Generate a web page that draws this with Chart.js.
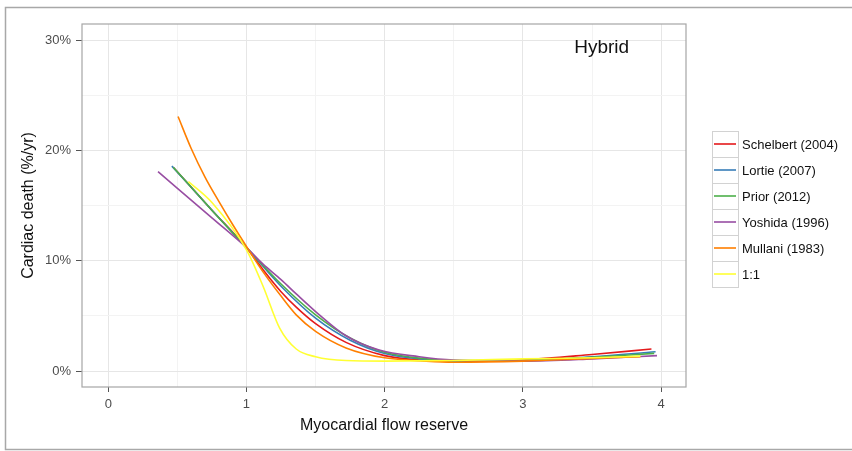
<!DOCTYPE html>
<html>
<head>
<meta charset="utf-8">
<script src="https://cdn.jsdelivr.net/npm/chart.js@4.4.1/dist/chart.umd.min.js"></script>
<style>
  body { margin: 0; background: #fff; }
  #wrap { position: relative; width: 852px; height: 451px; }
</style>
</head>
<body>
<div id="wrap"><canvas id="chart"></canvas></div>
<script>
// values (x = flow reserve, y = % per year)
const seriesNames = ["Schelbert (2004)", "Lortie (2007)", "Prior (2012)", "Yoshida (1996)", "Mullani (1983)", "1:1"];
const seriesColors = ["#e41a1c", "#377eb8", "#4daf4a", "#984ea3", "#ff7f00", "#ffff33"];

const schelbertX = [0.47, 0.75, 1.0, 1.12, 1.25, 1.36, 1.5, 1.72, 2.0, 2.3, 2.5, 3.0, 3.5, 3.93];
const schelbertY = [18.5, 14.6, 11.2, 9.2, 7.2, 5.8, 4.3, 2.6, 1.4, 0.95, 0.85, 1.0, 1.5, 2.0];

const lortieX = [0.46, 0.75, 1.0, 1.25, 1.5, 1.75, 2.0, 2.3, 2.5, 3.0, 3.5, 3.96];
const lortieY = [18.6, 14.6, 11.2, 7.7, 4.8, 2.8, 1.6, 1.05, 0.9, 0.95, 1.3, 1.75];

const priorX = [0.47, 0.75, 1.0, 1.25, 1.5, 1.75, 2.0, 2.3, 2.5, 3.0, 3.5, 3.95];
const priorY = [18.5, 14.6, 11.2, 7.9, 5.1, 3.0, 1.7, 1.1, 0.95, 0.95, 1.25, 1.6];

const yoshidaX = [0.36, 0.75, 1.0, 1.12, 1.25, 1.36, 1.5, 1.72, 1.96, 2.25, 2.5, 3.0, 3.5, 3.97];
const yoshidaY = [18.1, 13.9, 11.2, 9.7, 8.3, 7.0, 5.4, 3.2, 1.9, 1.3, 1.0, 0.9, 1.1, 1.4];

const mullaniX = [0.505, 0.6, 0.7, 0.8, 0.9, 1.0, 1.12, 1.25, 1.36, 1.5, 1.72, 2.0, 2.3, 2.5, 3.0, 3.5, 3.85];
const mullaniY = [23.1, 20.2, 17.6, 15.4, 13.3, 11.3, 9.0, 6.8, 5.1, 3.6, 2.1, 1.2, 0.9, 0.8, 0.9, 1.15, 1.3];

const oneToOneX = [0.58, 0.75, 1.0, 1.12, 1.24, 1.36, 1.5, 1.72, 2.0, 2.5, 3.0, 3.5, 3.85];
const oneToOneY = [17.2, 15.3, 11.0, 7.7, 3.9, 2.0, 1.3, 0.95, 0.9, 0.95, 1.1, 1.2, 1.35];

const xTicks = [0, 1, 2, 3, 4];
const xMinor = [0.5, 1.5, 2.5, 3.5];
const yTicks = [0, 10, 20, 30];
const yTickLabels = ["0%", "10%", "20%", "30%"];
const yMinor = [5, 15, 25];

const allX = [schelbertX, lortieX, priorX, yoshidaX, mullaniX, oneToOneX];
const allY = [schelbertY, lortieY, priorY, yoshidaY, mullaniY, oneToOneY];

const datasets = seriesNames.map((name, i) => ({
    label: name,
    data: allX[i].map((x, j) => ({ x: x, y: allY[i][j] })),
    borderColor: seriesColors[i],
    backgroundColor: seriesColors[i],
    borderWidth: 1.6,
    pointRadius: 0,
    showLine: true,
    cubicInterpolationMode: "monotone",
    order: seriesNames.length - i
}));

const FONT = "'Liberation Sans', Arial, sans-serif";

const framePlugin = {
    id: "frame",
    beforeDraw(chart) {
        const c = chart.ctx;
        c.save();
        c.strokeStyle = "#a8a8a8";
        c.lineWidth = 1.5;
        c.strokeRect(5.5, 7.5, 900, 442);
        c.restore();
    },
    afterDraw(chart) {
        const c = chart.ctx;
        const a = chart.chartArea;
        c.save();
        // panel border
        c.strokeStyle = "#a6a6a6";
        c.lineWidth = 1.2;
        c.strokeRect(a.left, a.top, a.right - a.left, a.bottom - a.top);

        // panel label
        const xs = chart.scales.x, ys = chart.scales.y;
        c.fillStyle = "#111";
        c.font = "19px " + FONT;
        c.textAlign = "center";
        c.textBaseline = "middle";
        c.fillText("Hybrid", xs.getPixelForValue(3.57), ys.getPixelForValue(29.3));

        // legend, ggplot style keys
        const lx = 712, ly = 131, kw = 26, kh = 26;
        chart.data.datasets.forEach((ds, i) => {
            const y = ly + i * kh;
            c.fillStyle = "#fff";
            c.fillRect(lx, y, kw, kh);
            c.strokeStyle = "#d2d2d2";
            c.lineWidth = 1;
            c.strokeRect(lx + 0.5, y + 0.5, kw, kh);
            c.strokeStyle = ds.borderColor;
            c.lineWidth = 1.6;
            c.beginPath();
            c.moveTo(lx + 2, y + kh / 2);
            c.lineTo(lx + kw - 2, y + kh / 2);
            c.stroke();
            c.fillStyle = "#111";
            c.font = "13px " + FONT;
            c.textAlign = "left";
            c.textBaseline = "middle";
            c.fillText(ds.label, lx + kw + 4, y + kh / 2 + 1);
        });
        c.restore();
    }
};

new Chart(document.getElementById("chart"), {
    type: "scatter",
    data: { datasets },
    options: {
        responsive: true,
        maintainAspectRatio: false,
        animation: false,
        layout: { padding: { top: 24, right: 166, left: 0, bottom: 0 } },
        plugins: {
            legend: { display: false },
            tooltip: { enabled: false }
        },
        scales: {
            x: {
                type: "linear",
                min: -0.19,
                max: 4.18,
                afterFit: s => { s.height = 64; },
                afterBuildTicks: s => {
                    s.ticks = xTicks.concat(xMinor).sort((a, b) => a - b).map(v => ({ value: v }));
                },
                ticks: {
                    autoSkip: false,
                    maxRotation: 0,
                    padding: 5,
                    color: "#4d4d4d",
                    font: { family: FONT, size: 13 },
                    callback: v => xTicks.includes(v) ? String(v) : ""
                },
                grid: {
                    color: ctx => xTicks.includes(ctx.tick.value) ? "#e6e6e6" : "#f3f3f3",
                    tickColor: ctx => xTicks.includes(ctx.tick.value) ? "#555" : "rgba(0,0,0,0)",
                    tickLength: 5,
                    lineWidth: 1
                },
                border: { display: false },
                title: {
                    display: true,
                    text: "Myocardial flow reserve",
                    color: "#111",
                    font: { family: FONT, size: 16 },
                    padding: { top: 4, bottom: 16 }
                }
            },
            y: {
                type: "linear",
                min: -1.45,
                max: 31.5,
                afterFit: s => { s.width = 82; },
                afterBuildTicks: s => {
                    s.ticks = yTicks.concat(yMinor).sort((a, b) => a - b).map(v => ({ value: v }));
                },
                ticks: {
                    autoSkip: false,
                    padding: 5,
                    color: "#4d4d4d",
                    font: { family: FONT, size: 13 },
                    callback: v => {
                        const k = yTicks.indexOf(v);
                        return k >= 0 ? yTickLabels[k] : "";
                    }
                },
                grid: {
                    color: ctx => yTicks.includes(ctx.tick.value) ? "#e6e6e6" : "#f3f3f3",
                    tickColor: ctx => yTicks.includes(ctx.tick.value) ? "#555" : "rgba(0,0,0,0)",
                    tickLength: 6,
                    lineWidth: 1
                },
                border: { display: false },
                title: {
                    display: true,
                    text: "Cardiac death (%/yr)",
                    color: "#111",
                    font: { family: FONT, size: 16 },
                    padding: { top: 19, bottom: 0 }
                }
            }
        }
    },
    plugins: [framePlugin]
});
</script>
</body>
</html>
